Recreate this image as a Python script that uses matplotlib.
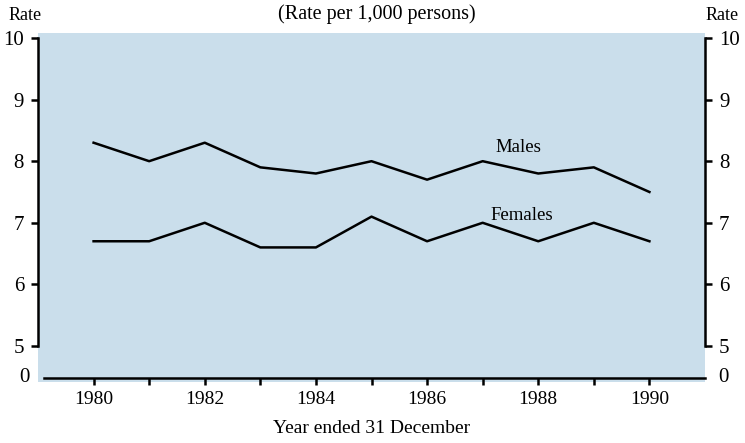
import matplotlib.pyplot as plt
from matplotlib.patches import Rectangle

plt.rcParams['font.family'] = ['Liberation Serif', 'DejaVu Serif']

years = [1980, 1981, 1982, 1983, 1984, 1985, 1986, 1987, 1988, 1989, 1990]
males = [8.3, 8.0, 8.3, 7.9, 7.8, 8.0, 7.7, 8.0, 7.8, 7.9, 7.5]
females = [6.7, 6.7, 7.0, 6.6, 6.6, 7.1, 6.7, 7.0, 6.7, 7.0, 6.7]
yticks = [5, 6, 7, 8, 9, 10]
xlabels = [1980, 1982, 1984, 1986, 1988, 1990]

# the axis is broken: "0" sits just below 5
zero_pos = 4.48

fig = plt.figure(figsize=(7.45, 4.43), dpi=100)
fig.patches.append(Rectangle((38 / 745, 1 - 382 / 443), 667 / 745, 349 / 443,
                             transform=fig.transFigure, facecolor='#cadeeb',
                             edgecolor='none', zorder=0))

ax = fig.add_axes([38 / 745, 1 - 378 / 443, 667 / 745, 340 / 443])
ax.set_zorder(2)
ax.set_facecolor('none')
ax.set_xlim(1979, 1991)
ax.set_ylim(zero_pos, 10)

ax.plot(years, males, color='black', lw=1.8)
ax.plot(years, females, color='black', lw=1.8)
ax.text(1987.65, 8.15, 'Males', fontsize=13.5, ha='center', va='baseline')
ax.text(1987.7, 7.05, 'Females', fontsize=13.5, ha='center', va='baseline')

ax.spines['top'].set_visible(False)
ax.spines['left'].set_bounds(5, 10)
ax.spines['right'].set_bounds(5, 10)
ax.spines['bottom'].set_bounds(1979.1, 1991)
for s in ['left', 'right', 'bottom']:
    ax.spines[s].set_linewidth(1.8)

ax.set_yticks(yticks)
ax.set_yticklabels([str(v) for v in yticks], fontsize=15)
ax.tick_params(axis='y', direction='out', length=5, width=1.8, left=True, right=True,
               labelleft=True, labelright=True, pad=5)
ax.text(-0.012, zero_pos, '0', transform=ax.get_yaxis_transform(), fontsize=15,
        ha='right', va='center')
ax.text(1.02, zero_pos, '0', transform=ax.get_yaxis_transform(), fontsize=15,
        ha='left', va='center')

ax.set_xticks(years, minor=True)
ax.set_xticks(xlabels)
ax.set_xticklabels([str(v) for v in xlabels], fontsize=14)
ax.tick_params(axis='x', which='both', direction='out', length=5, width=1.8, pad=4)
ax.set_xlabel('Year ended 31 December', fontsize=14, labelpad=9)

fig.text(25 / 745, 1 - 15 / 443, 'Rate', fontsize=13, ha='center', va='center')
fig.text(722 / 745, 1 - 15 / 443, 'Rate', fontsize=13, ha='center', va='center')
fig.text(377 / 745, 1 - 14 / 443, '(Rate per 1,000 persons)', fontsize=14.5,
         ha='center', va='center')

fig.savefig('out.png', dpi=100)
